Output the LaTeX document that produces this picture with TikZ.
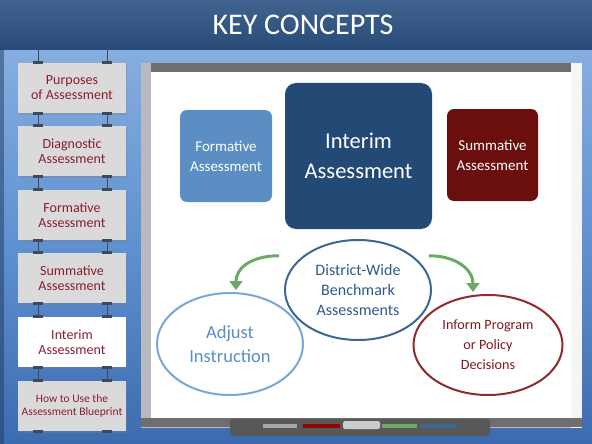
\documentclass[tikz,border=0pt]{standalone}
\usepackage{fontspec}
\setmainfont{Carlito}
\usetikzlibrary{positioning, shapes.geometric, arrows.meta, shadows}

\definecolor{hdrtop}{HTML}{416390}
\definecolor{hdrbot}{HTML}{284A78}
\definecolor{bgtop}{HTML}{86AEE0}
\definecolor{bgmid}{HTML}{5F90CF}
\definecolor{bgbot}{HTML}{3C6CB0}
\definecolor{cardgray}{HTML}{DADADA}
\definecolor{cardred}{HTML}{8C1D2E}
\definecolor{hookgray}{HTML}{3E4A5C}
\definecolor{formblue}{HTML}{5B8FC4}
\definecolor{interblue}{HTML}{234A74}
\definecolor{summred}{HTML}{6B0E0E}
\definecolor{dwblue}{HTML}{3D6792}
\definecolor{dwtext}{HTML}{2E5A8C}
\definecolor{adjblue}{HTML}{7AA6D6}
\definecolor{adjtext}{HTML}{5B8DC8}
\definecolor{infred}{HTML}{8E2B2D}
\definecolor{inftext}{HTML}{7D1A1F}
\definecolor{arrowgreen}{HTML}{6AAA64}
\definecolor{framegray}{HTML}{B7BABF}
\definecolor{bargray}{HTML}{6E6E6E}

\tikzset{
  card/.style={fill=cardgray, minimum width=108pt, minimum height=50pt, align=center,
    text=cardred, font=\fontsize{14}{15}\selectfont,
    drop shadow={opacity=0.35, shadow xshift=1pt, shadow yshift=-1.5pt}},
  hook/.style={fill=hookgray, minimum width=10pt, minimum height=3pt, inner sep=0pt},
  box/.style={rounded corners=7pt, text=white, align=center},
  ring/.style={ellipse, line width=2pt, align=center, inner sep=0pt},
  garrow/.style={draw=arrowgreen, line width=3pt, -{Triangle[length=9pt,width=13pt]}}
}

\begin{document}
\begin{tikzpicture}[x=1pt, y=-1pt]
  \useasboundingbox (0,0) rectangle (592,444);
  % background
  \shade[top color=bgtop, bottom color=bgbot, middle color=bgmid] (0,50) rectangle (592,444);
  \fill[hdrbot!80!black, opacity=0.5] (0,50) rectangle (4,444);
  \shade[top color=hdrtop, bottom color=hdrbot] (0,0) rectangle (592,50);
  \node[text=white, font=\fontsize{30}{32}\selectfont] (title) at (303,25) {KEY CONCEPTS};

  % board
  \fill[framegray] (141,63) rectangle (582,428);
  \fill[white!85!framegray] (571,63) rectangle (582,428);
  \fill[bargray] (151,63) rectangle (571,72);
  \fill[white] (151,72) rectangle (571,418);
  \fill[bargray] (141,418) rectangle (582,427);
  \fill[bargray!80!black, rounded corners=3pt] (230,419) rectangle (490,436);
  \fill[gray!70] (263,424) rectangle (297,428);
  \fill[red!60!black] (303,424) rectangle (340,428);
  \fill[gray!40, rounded corners=2pt] (343,421) rectangle (380,429);
  \fill[arrowgreen] (382,424) rectangle (417,428);
  \fill[dwblue] (420,424) rectangle (457,428);

  % hangers
  \draw[hookgray, line width=0.6pt] (38,50) -- (38,381);
  \draw[hookgray, line width=0.6pt] (107,50) -- (107,381);

  % menu cards
  \node[card] (c1) at (72,88) {Purposes\\of Assessment};
  \node[card] (c2) at (72,151) {Diagnostic\\Assessment};
  \node[card] (c3) at (72,215) {Formative\\Assessment};
  \node[card] (c4) at (72,278) {Summative\\Assessment};
  \node[card, fill=white] (c5) at (72,342) {Interim\\Assessment};
  \node[card, font=\fontsize{11.5}{13}\selectfont] (c6) at (72,406) {How to Use the\\Assessment Blueprint};
  \foreach \c in {c1,c2,c3,c4,c5,c6} {
    \node[hook] at ([xshift=-34pt]\c.north) {};
    \node[hook] at ([xshift=35pt]\c.north) {};
    \node[hook] at ([xshift=-34pt]\c.south) {};
    \node[hook] at ([xshift=35pt]\c.south) {};
  }

  % assessment boxes
  \node[box, fill=formblue, minimum width=92pt, minimum height=92pt,
    font=\fontsize{15}{20}\selectfont] (form) at (226,156) {Formative\\Assessment};
  \node[box, fill=interblue, rounded corners=11pt, minimum width=147pt, minimum height=146pt,
    font=\fontsize{22.5}{30}\selectfont] (inter) at (358.5,156) {Interim\\Assessment};
  \node[box, fill=summred, minimum width=91pt, minimum height=92pt,
    font=\fontsize{15}{20}\selectfont] (summ) at (492.5,155) {Summative\\Assessment};

  % uses of the results
  \node[ring, draw=dwblue, text=dwtext, minimum width=146pt, minimum height=100pt,
    font=\fontsize{16}{20}\selectfont] (dw) at (358,290) {District-Wide\\Benchmark\\Assessments};
  \node[ring, draw=adjblue, text=adjtext, minimum width=146pt, minimum height=102pt,
    font=\fontsize{18.5}{24}\selectfont] (adj) at (230,344) {Adjust\\Instruction};
  \node[ring, draw=infred, text=inftext, minimum width=149pt, minimum height=100pt,
    font=\fontsize{14.2}{20}\selectfont] (inf) at (488,345) {Inform Program\\or Policy\\Decisions};

  \draw[garrow] ([xshift=-24pt]dw.148) .. controls +(-28,0) and +(0,-22) .. ([shift={(6pt,2pt)}]adj.north);
  \draw[garrow] ([xshift=16pt]dw.32) .. controls +(28,0) and +(0,-22) .. ([shift={(-15pt,2pt)}]inf.north);
\end{tikzpicture}
\end{document}
